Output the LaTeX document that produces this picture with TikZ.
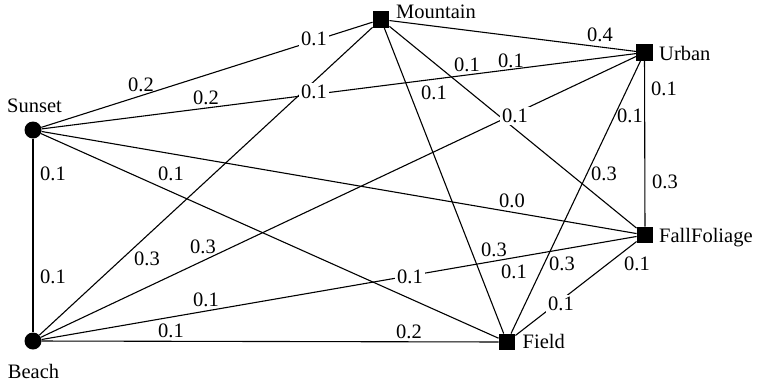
\documentclass[tikz,border=0pt]{standalone}
\usepackage{fontspec}
\setmainfont{Liberation Serif}
\begin{document}
\begin{tikzpicture}[x=1pt,y=-1pt,
  edge/.style={line width=1.1pt},
  circ/.style={circle,fill=black,minimum size=17pt,inner sep=0pt},
  sq/.style={rectangle,fill=black,minimum size=16.5pt,inner sep=0pt},
  vname/.style={inner sep=0pt,font=\fontsize{20.5}{24}\selectfont},
  lbl/.style={inner sep=0pt,font=\fontsize{20.5}{24}\selectfont},
  cut/.style={lbl,fill=white,inner sep=2.5pt}]
\useasboundingbox (0,0) rectangle (757,381);

% vertices
\node[circ] (S) at (33,130) {};
\node[circ] (B) at (33,341) {};
\node[sq] (M) at (381,19.5) {};
\node[sq] (U) at (644.5,52.5) {};
\node[sq] (F) at (645,235) {};
\node[sq] (Fi) at (507,342) {};

% vertex names
\node[vname,anchor=base west] (Mn) at (396,18) {Mountain};
\node[vname,anchor=base west] (Un) at (659,60.5) {Urban};
\node[vname,anchor=base west] (Fn) at (659,242) {FallFoliage};
\node[vname,anchor=base west] (Fin) at (522.5,348) {Field};
\node[vname,anchor=base] (Sn) at (34.5,112) {Sunset};
\node[vname,anchor=base] (Bn) at (33.5,378) {Beach};

% edges
\draw[edge] (S) -- (M);
\draw[edge] (S) -- (U);
\draw[edge] (S) -- (B);
\draw[edge] (S) -- (F);
\draw[edge] (S) -- (Fi);
\draw[edge] (B) -- (M);
\draw[edge] (B) -- (U);
\draw[edge] (B) -- (F);
\draw[edge] (B) -- (Fi);
\draw[edge] (M) -- (U);
\draw[edge] (M) -- (F);
\draw[edge] (M) -- (Fi);
\draw[edge] (U) -- (F);
\draw[edge] (U) -- (Fi);
\draw[edge] (F) -- (Fi);

% weights
\node[cut] (w1) at (314,38.5) {0.1};
\node[lbl] (w2) at (141,85) {0.2};
\node[lbl] (w3) at (206,98) {0.2};
\node[cut] (w4) at (314,92) {0.1};
\node[lbl] (w5) at (53,174) {0.1};
\node[lbl] (w6) at (171,174) {0.1};
\node[lbl] (w7) at (600,35) {0.4};
\node[lbl] (w8) at (467,65) {0.1};
\node[lbl] (w9) at (511,61) {0.1};
\node[lbl] (w10) at (434,93) {0.1};
\node[cut] (w11) at (515,116) {0.1};
\node[lbl] (w12) at (664,89) {0.1};
\node[lbl] (w13) at (630,116) {0.1};
\node[lbl] (w14) at (604,174) {0.3};
\node[lbl] (w15) at (665,182) {0.3};
\node[lbl] (w16) at (53,277) {0.1};
\node[lbl] (w17) at (147,259) {0.3};
\node[lbl] (w18) at (203,247) {0.3};
\node[lbl] (w19) at (206,300) {0.1};
\node[lbl] (w20) at (171,331) {0.1};
\node[lbl] (w21) at (512,201) {0.0};
\node[lbl] (w22) at (494,250) {0.3};
\node[cut] (w23) at (410,277) {0.1};
\node[lbl] (w24) at (514,272) {0.1};
\node[lbl] (w25) at (562,264) {0.3};
\node[lbl] (w26) at (637,264) {0.1};
\node[cut] (w27) at (561,304) {0.1};
\node[lbl] (w28) at (409,332) {0.2};
\end{tikzpicture}
\end{document}
